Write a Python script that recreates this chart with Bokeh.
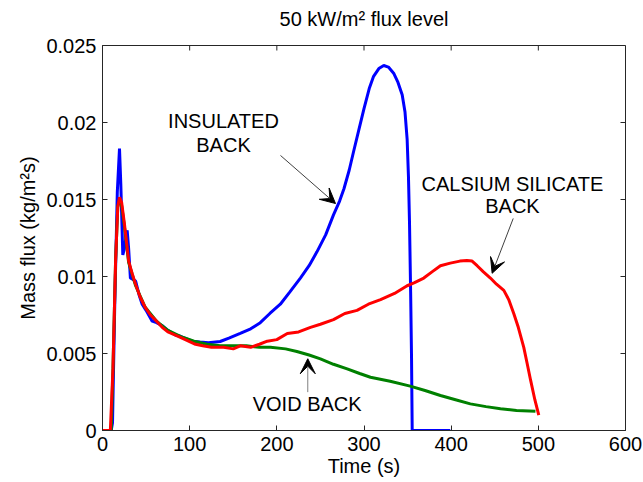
import math
from bokeh.plotting import figure
from bokeh.models import (FixedTicker, NumeralTickFormatter, Arrow, VeeHead, LinearAxis,
                          ColumnDataSource, Range1d)
from bokeh.core.properties import value
from bokeh.embed import file_html
from bokeh.resources import INLINE

# ---------------- data ----------------
x_ticks = [0, 100, 200, 300, 400, 500, 600]
y_ticks = [0, 0.005, 0.01, 0.015, 0.02, 0.025]

ins_t = [0, 10, 11.5, 14, 17, 19.5, 21, 23.3, 25, 28.3, 30, 32, 35, 38, 42, 45.5, 50, 57,
         62, 68.5, 75, 83.7, 90, 103, 112, 121.6, 135, 145, 158, 170, 181, 192, 204, 215,
         227, 237, 246, 256, 265, 272, 277, 283, 288, 294, 300, 306, 311, 317, 322.7, 328,
         334, 339, 343.8, 347, 349.5, 351, 352.2, 353.5, 354.5, 355.3, 370, 385, 399]
ins_m = [0, 0, 0.0005, 0.008, 0.0155, 0.0183, 0.016, 0.0114, 0.0118, 0.013, 0.0118, 0.0099,
         0.0098, 0.0097, 0.0088, 0.0082, 0.0078, 0.0071, 0.0070, 0.0068, 0.0065, 0.0062,
         0.0061, 0.0058, 0.00575, 0.0057, 0.00578, 0.0060, 0.0063, 0.0066, 0.0070, 0.0076,
         0.0082, 0.0090, 0.0099, 0.0107, 0.0116, 0.0127, 0.0140, 0.0149, 0.0157, 0.0169,
         0.0181, 0.0195, 0.0209, 0.0222, 0.0230, 0.0235, 0.0237, 0.0236, 0.0232, 0.0226,
         0.0218, 0.0207, 0.0189, 0.0165, 0.0135, 0.009, 0.0049, 0, 0, 0, 0]

cal_t = [0, 9, 12, 15, 17.5, 19.5, 22, 25, 30, 34, 37.9, 43, 49, 55, 62, 68.5, 75, 87.5, 95,
         106.7, 115, 125, 139, 150, 158, 170, 180, 189, 200, 212, 225, 238.6, 250, 265, 278,
         292, 305, 319, 335, 349.5, 358, 368.6, 378, 387.7, 399, 410, 418, 424, 429.8, 437,
         445, 452, 460.4, 466, 471.8, 477, 483.3, 487, 491, 496, 500.5]
cal_m = [0, 0, 0.004, 0.011, 0.0145, 0.01515, 0.0148, 0.0135, 0.0110, 0.0102, 0.0095, 0.0087,
         0.0080, 0.0075, 0.0071, 0.0067, 0.0064, 0.0061, 0.0059, 0.0056, 0.0055, 0.0054,
         0.0054, 0.0053, 0.0055, 0.0054, 0.0056, 0.0058, 0.0059, 0.0063, 0.0064, 0.0067,
         0.0069, 0.0072, 0.0076, 0.0078, 0.0082, 0.0085, 0.0089, 0.0094, 0.0096, 0.0099,
         0.0103, 0.0107, 0.01087, 0.0110, 0.01104, 0.0110, 0.0107, 0.0103, 0.0099, 0.0095,
         0.0091, 0.0085, 0.0076, 0.0067, 0.0054, 0.0044, 0.0033, 0.0020, 0.001]

void_t = [0, 10, 12, 15, 17.5, 19.5, 22, 25, 30, 38, 49, 62, 75, 90, 105, 120, 135, 150, 165,
          180, 192.7, 210, 223, 237, 250, 265, 280.7, 295, 307.4, 330, 353, 370, 387.7, 405,
          422, 440, 456.6, 475, 496.7]
void_m = [0, 0, 0.004, 0.011, 0.0145, 0.0150, 0.0146, 0.0133, 0.0109, 0.0094, 0.0080, 0.0071,
          0.0065, 0.0061, 0.0058, 0.0056, 0.0055, 0.0055, 0.0055, 0.0054, 0.0054, 0.0053,
          0.00513, 0.0049, 0.00465, 0.0043, 0.0040, 0.0037, 0.00346, 0.0032, 0.00288, 0.0026,
          0.00227, 0.0020, 0.00173, 0.00155, 0.00141, 0.0013, 0.00125]

title_text = "50 kW/m\u00b2 flux level"
x_label = "Time (s)"
y_label = "Mass flux (kg/m\u00b2s)"

# ---------------- figure ----------------
FONT = "Liberation Sans"
FS = "20px"
AX = "#262626"

X0, X1 = x_ticks[0], x_ticks[-1]
Y0, Y1 = y_ticks[0], y_ticks[-1]

p = figure(width=643, height=482, output_backend="svg", toolbar_location=None,
           x_range=Range1d(X0, X1), y_range=Range1d(Y0, Y1),
           min_border_left=102, min_border_right=18, min_border_top=45, min_border_bottom=52,
           x_axis_label=x_label, y_axis_label=y_label)
p.background_fill_color = "white"
p.border_fill_color = "white"
p.outline_line_color = AX
p.outline_line_width = 1
p.grid.visible = False

for ax, ticks in ((p.xaxis[0], x_ticks), (p.yaxis[0], y_ticks)):
    ax.ticker = FixedTicker(ticks=ticks)
    ax.major_tick_in = 5
    ax.major_tick_out = 0
    ax.minor_tick_line_color = None
    ax.axis_line_color = AX
    ax.major_tick_line_color = AX
    ax.major_label_text_font = FONT
    ax.major_label_text_font_size = FS
    ax.major_label_text_color = "black"
    ax.axis_label_text_font = FONT
    ax.axis_label_text_font_size = FS
    ax.axis_label_text_font_style = "normal"
    ax.axis_label_text_color = "black"

p.xaxis[0].major_label_standoff = 6
p.xaxis[0].axis_label_standoff = 1
p.yaxis[0].major_label_standoff = 6
p.yaxis[0].axis_label_standoff = 4
p.yaxis[0].formatter = NumeralTickFormatter(format="0.[000]")

# title: carried by a tick-less axis above the plot box
top_ax = LinearAxis(ticker=FixedTicker(ticks=[]), axis_label=title_text,
                    axis_line_color=None, major_tick_line_color=None,
                    minor_tick_line_color=None, major_tick_in=0, major_tick_out=0,
                    major_label_standoff=0, axis_label_standoff=16,
                    axis_label_text_font=FONT, axis_label_text_font_size=FS,
                    axis_label_text_font_style="normal", axis_label_text_color="black")
p.add_layout(top_ax, "above")

# inward tick marks on the top and right edges of the box
p.ray(x=x_ticks, y=[Y1] * len(x_ticks), length=5, length_units="screen",
      angle=-math.pi / 2, line_color=AX, line_width=1)
p.ray(x=[X1] * len(y_ticks), y=y_ticks, length=5, length_units="screen",
      angle=math.pi, line_color=AX, line_width=1)

# ---------------- curves ----------------
p.line(ins_t, ins_m, line_color="#0000FF", line_width=3)
p.line(void_t, void_m, line_color="#008000", line_width=3)
p.line(cal_t, cal_m, line_color="#FF0000", line_width=3)

# ---------------- annotations ----------------
lab_src = ColumnDataSource(dict(
    x=[138.8, 138.8, 470.3, 470.3, 234.8],
    y=[0.0201, 0.01854, 0.01602, 0.01459, 0.00171],
    text=["INSULATED", "BACK", "CALSIUM SILICATE", "BACK", "VOID BACK"],
))
p.text(x="x", y="y", text="text", source=lab_src, text_align="center",
       text_baseline="middle", text_font=value(FONT), text_font_size=FS,
       text_color="black")

def arrow(x0, y0, x1, y1, color):
    p.add_layout(Arrow(end=VeeHead(size=15, fill_color="black", line_color="black",
                                   line_width=1),
                       x_start=x0, y_start=y0, x_end=x1, y_end=y1,
                       line_color=color, line_width=1))

arrow(204.2, 0.01786, 267.3, 0.01474, "#404040")
arrow(471.2, 0.01377, 447.0, 0.01021, "#404040")
arrow(235.5, 0.00249, 235.5, 0.00466, "#808080")

open("out.html", "w").write(file_html(p, INLINE))
